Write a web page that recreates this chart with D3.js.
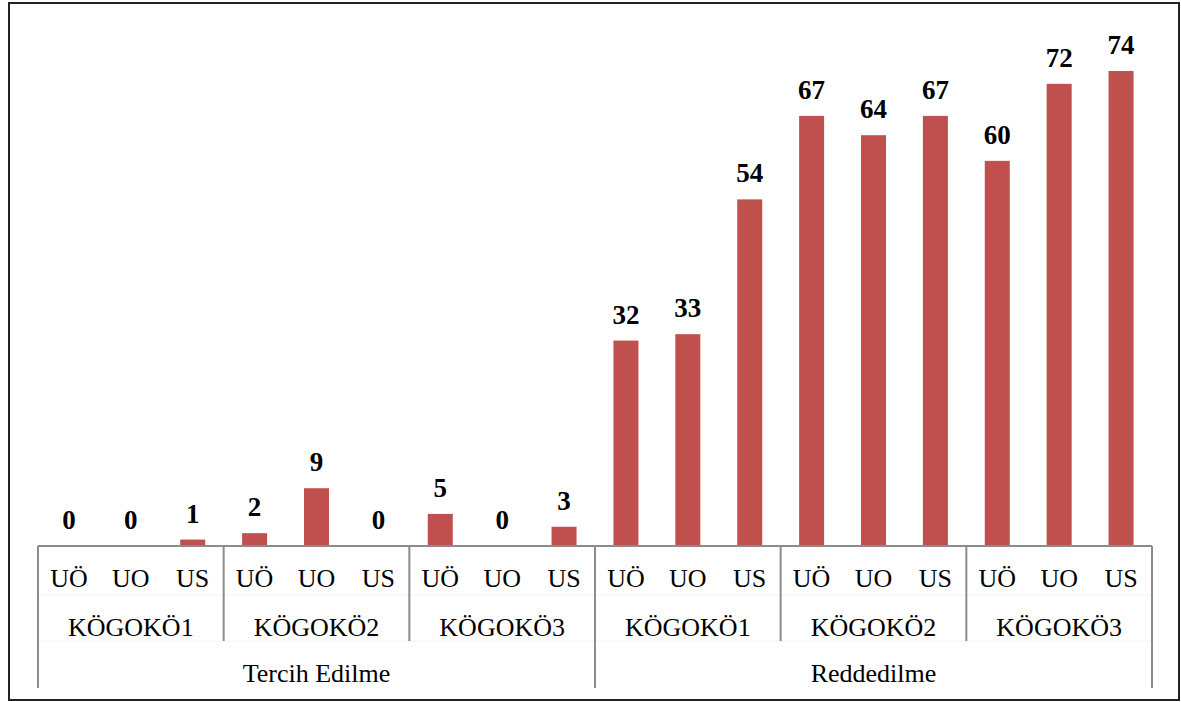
<!DOCTYPE html>
<html>
<head>
<meta charset="utf-8">
<script src="https://cdn.jsdelivr.net/npm/d3@7"></script>
<style>
  body { margin: 0; background: #fff; }
</style>
</head>
<body>
<svg id="chart" width="1181" height="702"></svg>
<script>
// data
const groups = ["Tercih Edilme", "Reddedilme"];
const subgroups = ["KÖGOKÖ1", "KÖGOKÖ2", "KÖGOKÖ3"];
const items = ["UÖ", "UO", "US"];
const values = [0, 0, 1, 2, 9, 0, 5, 0, 3, 32, 33, 54, 67, 64, 67, 60, 72, 74];

const serif = "'Times New Roman', Times, 'Liberation Serif', 'DejaVu Serif', serif";

const svg = d3.select("#chart");
const left = 38, right = 1152, base = 546;
const row2 = 595, row3 = 641, bottom = 688;

// outer frame
svg.append("rect")
    .attr("x", 9).attr("y", 3)
    .attr("width", 1170).attr("height", 697)
    .attr("fill", "none")
    .attr("stroke", "#222")
    .attr("stroke-width", 2);

const idx = d3.range(values.length);
const x = d3.scaleBand().domain(idx).range([left, right]).paddingInner(0).paddingOuter(0);
const y = d3.scaleLinear().domain([0, 74]).range([base, 71]);

const bw = 25;

svg.selectAll("rect.bar")
    .data(idx)
    .enter()
    .append("rect")
    .attr("class", "bar")
    .attr("x", d => x(d) + x.bandwidth() / 2 - bw / 2)
    .attr("y", d => y(values[d]))
    .attr("width", bw)
    .attr("height", d => base - y(values[d]))
    .style("fill", "#C0504D");

svg.selectAll("text.val")
    .data(idx)
    .enter()
    .append("text")
    .attr("class", "val")
    .attr("x", d => x(d) + x.bandwidth() / 2)
    .attr("y", d => y(values[d]) - 17)
    .attr("text-anchor", "middle")
    .style("font-family", serif)
    .style("font-size", "27px")
    .style("font-weight", "bold")
    .style("fill", "#000")
    .text(d => values[d]);

// faint row guides
[row2, row3].forEach(r => {
    svg.append("line")
        .attr("x1", left).attr("x2", right)
        .attr("y1", r).attr("y2", r)
        .style("stroke", "#f2f2f2");
});

// first label row via d3 axis
const axis = svg.append("g")
    .attr("transform", `translate(0,${base})`)
    .call(d3.axisBottom(x).tickSize(0).tickPadding(0).tickFormat(d => items[d % 3]));
axis.select(".domain").remove();
axis.selectAll("text")
    .attr("y", 41)
    .attr("dy", null)
    .style("font-size", "26px")
    .style("font-family", serif)
    .style("fill", "#000");

// second level: subgroups
const subIdx = d3.range(groups.length * subgroups.length);
svg.selectAll("text.sub")
    .data(subIdx)
    .enter()
    .append("text")
    .attr("class", "sub")
    .attr("x", d => (x(d * 3) + x(d * 3 + 2) + x.bandwidth()) / 2)
    .attr("y", 636)
    .attr("text-anchor", "middle")
    .style("font-family", serif)
    .style("font-size", "26px")
    .text(d => subgroups[d % 3]);

// third level: groups
svg.selectAll("text.grp")
    .data(groups)
    .enter()
    .append("text")
    .attr("class", "grp")
    .attr("x", (d, i) => (x(i * 9) + x(i * 9 + 8) + x.bandwidth()) / 2)
    .attr("y", 682)
    .attr("text-anchor", "middle")
    .style("font-family", serif)
    .style("font-size", "26px")
    .text(d => d);

const axisColor = "#8c8c8c";

// horizontal axis line
svg.append("line")
    .attr("x1", left).attr("x2", right)
    .attr("y1", base).attr("y2", base)
    .style("stroke", axisColor).style("stroke-width", 2);

// separators
const seps = d3.range(0, values.length + 1, 3);
svg.selectAll("line.sep")
    .data(seps)
    .enter()
    .append("line")
    .attr("class", "sep")
    .attr("x1", d => d < values.length ? x(d) : right)
    .attr("x2", d => d < values.length ? x(d) : right)
    .attr("y1", base)
    .attr("y2", d => d % 9 === 0 ? bottom : row3)
    .style("stroke", axisColor)
    .style("stroke-width", 2);
</script>
</body>
</html>
